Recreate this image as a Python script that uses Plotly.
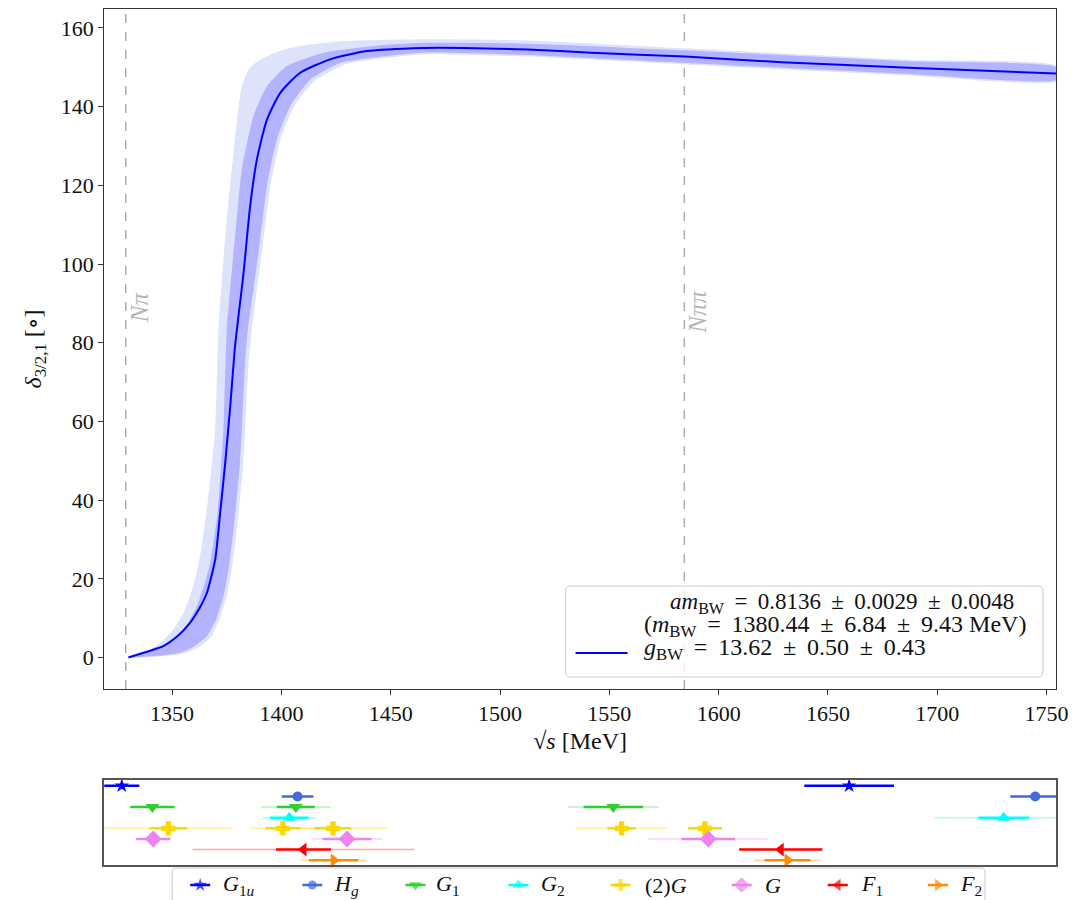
import plotly.graph_objects as go

W, H = 1084, 900
KX = 1 / 0.988  # the page photo is squeezed horizontally by ~1.2 %; compensate positions

# ---------------- main curve data (sqrt(s) in MeV, delta in degrees) ----------------
center_E = [1330.0, 1338.0, 1346.0, 1352.0, 1358.2, 1362.5, 1365.9, 1369.7, 1372.0, 1374.3,
            1376.6, 1378.8, 1382.7, 1385.7, 1388.8, 1393.4, 1399.5, 1408.6, 1422.3, 1439.1,
            1465.0, 1483.5, 1512.5, 1541.6, 1584.6, 1628.7, 1686.8, 1754.6]
center_d = [0.0, 1.4, 2.9, 5.2, 8.8, 12.5, 16.4, 24.9, 36.8, 49.5,
            63.9, 79.1, 97.8, 114.7, 126.6, 136.7, 143.5, 148.6, 152.0, 154.1,
            154.9, 154.9, 154.5, 153.7, 152.7, 151.3, 149.9, 148.4]

outer_up_E = [1330.0, 1339.9, 1345.5, 1350.6, 1354.8, 1358.2, 1361.2, 1363.6, 1366.6, 1369.7,
              1371.2, 1373.5, 1375.8, 1378.1, 1380.0, 1381.6, 1384.9, 1389.0, 1393.4, 1400.0,
              1408.6, 1426.9, 1465.0, 1512.5, 1584.6, 1686.8, 1754.6]
outer_up_d = [0.0, 2.0, 4.2, 7.1, 10.8, 15.6, 21.5, 28.3, 41.0, 57.9,
              83.0, 101.0, 116.0, 128.3, 138.0, 144.5, 149.4, 151.5, 152.8, 154.3,
              155.4, 156.6, 157.1, 156.8, 154.8, 151.9, 150.4]
outer_lo_E = [1330.0, 1345.0, 1355.5, 1362.0, 1367.5, 1371.5, 1375.0, 1377.5, 1379.6, 1382.6,
              1385.0, 1386.4, 1391.0, 1395.0, 1399.5, 1405.8, 1415.0, 1429.0, 1448.0, 1465.0,
              1512.5, 1584.6, 1686.8, 1754.6]
outer_lo_d = [0.0, 0.3, 1.0, 2.6, 5.0, 9.5, 15.6, 23.0, 32.5, 49.5,
              74.9, 83.0, 102.8, 119.8, 131.6, 140.1, 146.5, 150.7, 152.4, 153.3,
              152.7, 150.7, 147.9, 146.4]

inner_up_E = [1330.0, 1339.9, 1346.0, 1352.2, 1357.0, 1361.3, 1364.5, 1367.4, 1370.8, 1373.5,
              1375.0, 1378.1, 1381.9, 1387.2, 1393.4, 1402.5, 1419.3, 1442.2, 1465.0, 1512.5,
              1584.6, 1686.8, 1754.6]
inner_up_d = [0.0, 1.6, 3.2, 5.4, 8.5, 13.0, 18.0, 24.0, 36.8, 57.9,
              83.4, 102.8, 124.0, 137.6, 145.2, 150.3, 153.7, 155.4, 156.2, 156.0,
              154.3, 151.5, 150.0]
inner_lo_E = [1330.0, 1345.0, 1353.7, 1360.0, 1365.9, 1370.0, 1373.5, 1376.0, 1378.1, 1381.1,
              1383.4, 1384.6, 1389.5, 1393.4, 1397.9, 1404.0, 1413.2, 1426.9, 1446.7, 1465.0,
              1512.5, 1584.6, 1686.8, 1754.6]
inner_lo_d = [0.0, 0.5, 1.2, 2.8, 5.4, 9.5, 15.6, 23.0, 32.5, 49.5,
              74.9, 83.0, 102.8, 119.8, 131.6, 140.1, 146.9, 151.1, 152.8, 153.7,
              153.1, 151.1, 148.3, 146.8]

# thresholds
thr_Npi = 1328.8
thr_Npipi = 1584.3

# ---------------- energy levels (bottom panel) ----------------
irrep_names = ["<i>G</i><sub>1<i>u</i></sub>", "<i>H<sub>g</sub></i>", "<i>G</i><sub>1</sub>",
               "<i>G</i><sub>2</sub>", "(2)<i>G</i>", "<i>G</i>", "<i>F</i><sub>1</sub>",
               "<i>F</i><sub>2</sub>"]
lvl_E = [
    [1327.0, 1659.7],
    [1407.4, 1744.8],
    [1341.0, 1406.6, 1551.8],
    [1403.6, 1730.4],
    [1348.3, 1400.7, 1423.6, 1555.6, 1593.7],
    [1341.4, 1430.0, 1595.3],
    [1410.1, 1628.4],
    [1423.9, 1631.5],
]
lvl_err_in = [
    [8.0, 20.5],
    [7.2, 11.4],
    [10.1, 8.7, 13.6],
    [8.8, 11.6],
    [8.6, 8.0, 8.4, 6.5, 7.8],
    [7.8, 11.2, 12.3],
    [12.6, 19.0],
    [11.3, 10.5],
]
lvl_err_out = [
    [8.0, 20.5],
    [7.2, 11.4],
    [10.1, 15.8, 20.6],
    [12.3, 31.8],
    [29.6, 15.0, 25.0, 21.3, 7.8],
    [7.8, 16.3, 27.6],
    [50.7, 19.0],
    [15.1, 15.3],
]
colors = ["#0000ff", "#4169e1", "#32cd32", "#00ffff", "#ffd700", "#ee82ee", "#ff0000", "#ff8c00"]
light_colors = ["rgba(0,0,255,0.35)", "rgba(65,105,225,0.35)", "rgba(50,205,50,0.35)",
                "rgba(0,255,255,0.35)", "rgba(255,215,0,0.35)", "rgba(238,130,238,0.35)",
                "rgba(255,0,0,0.35)", "rgba(255,140,0,0.35)"]
symbols = ["star", "circle", "triangle-down", "triangle-up", "cross", "diamond",
           "triangle-left", "triangle-right"]
msizes = [11, 10, 12, 12, 11, 13, 12, 12]

# legend layout (pixel positions of each entry's swatch start and text start)
leg_sw_px = [190, 302, 405, 508, 610, 731, 827, 927]
leg_tx_px = [221, 332, 434, 538, 642, 762, 858, 957]

FONT = "Liberation Serif, DejaVu Serif, serif"


def X(p):
    return p * KX / W


def Y(p):
    return 1 - p / H


fig = go.Figure()


def band(upE, upd, loE, lod, color):
    return go.Scatter(x=upE + loE[::-1], y=upd + lod[::-1], fill="toself", fillcolor=color,
                      line=dict(width=0, shape="spline", smoothing=0.5), mode="lines",
                      hoverinfo="skip", showlegend=False, xaxis="x", yaxis="y")


fig.add_trace(band(outer_up_E, outer_up_d, outer_lo_E, outer_lo_d, "#dde3fb"))
fig.add_trace(band(inner_up_E, inner_up_d, inner_lo_E, inner_lo_d, "#b3b3ff"))
fig.add_trace(go.Scatter(x=center_E, y=center_d, mode="lines",
                         line=dict(color="#0000ff", width=2, shape="spline", smoothing=0.6),
                         showlegend=False, xaxis="x", yaxis="y"))

# energy levels
for i in range(len(irrep_names)):
    row = [i] * len(lvl_E[i])
    fig.add_trace(go.Scatter(
        x=lvl_E[i], y=row, mode="markers", marker=dict(size=1, opacity=0),
        error_x=dict(type="data", array=lvl_err_out[i], color=light_colors[i], thickness=1.5, width=0),
        showlegend=False, xaxis="x2", yaxis="y2", hoverinfo="skip"))
    fig.add_trace(go.Scatter(
        x=lvl_E[i], y=row, mode="markers", name=irrep_names[i],
        marker=dict(symbol=symbols[i], size=msizes[i], color=colors[i],
                    line=dict(width=1 if symbols[i] == "cross" else 0, color=colors[i])),
        error_x=dict(type="data", array=lvl_err_in[i], color=colors[i], thickness=2.5, width=0),
        showlegend=False, xaxis="x2", yaxis="y2"))
    # legend swatch (drawn on an invisible pixel-space overlay axis)
    s = leg_sw_px[i]
    fig.add_trace(go.Scatter(
        x=[s, s + 10, s + 20], y=[885, 885, 885], mode="lines+markers",
        marker=dict(symbol=symbols[i], size=[0, msizes[i] - 1, 0], color=colors[i], line=dict(width=0)),
        line=dict(color=colors[i], width=2.5), xaxis="x3", yaxis="y3", showlegend=False,
        hoverinfo="skip"))
    fig.add_annotation(x=X(leg_tx_px[i]), y=Y(885), xref="paper", yref="paper", xanchor="left",
                       yanchor="middle", text=irrep_names[i], showarrow=False,
                       font=dict(size=22, color="#111"))

xdom = [X(104), X(1055)]
fig.update_layout(
    width=W, height=H, margin=dict(l=0, r=0, t=0, b=0),
    paper_bgcolor="white", plot_bgcolor="rgba(0,0,0,0)",
    font=dict(family=FONT, size=22, color="#111"),
    showlegend=False,
    xaxis=dict(domain=xdom, range=[1318.9, 1754.3], anchor="y", showgrid=False, zeroline=False,
               showline=True, mirror=True, linecolor="#333", linewidth=1, ticks="outside",
               ticklen=5, tickcolor="#333", dtick=50, tick0=1350,
               title=dict(text="√<i>s</i> [MeV]", standoff=6, font=dict(size=24))),
    yaxis=dict(domain=[Y(689), Y(9)], range=[-8, 164.8], anchor="x", showgrid=False,
               zeroline=False, showline=True, mirror=True, linecolor="#333", linewidth=1,
               ticks="outside", ticklen=5, tickcolor="#333", dtick=20,
               title=dict(text="<i>δ</i><sub>3/2,1</sub> [∘]", standoff=12, font=dict(size=24))),
    xaxis2=dict(domain=xdom, matches="x", anchor="y2", showgrid=False, zeroline=False,
                showline=True, mirror=True, linecolor="#555", linewidth=1.5, showticklabels=False,
                ticks=""),
    yaxis2=dict(domain=[Y(865), Y(780)], range=[7.45, -0.55], anchor="x2",
                showgrid=False, zeroline=False, showline=True, mirror=True, linecolor="#555",
                linewidth=1.5, showticklabels=False, ticks=""),
    xaxis3=dict(domain=[0, 1], range=[0, W / KX], anchor="y3", visible=False, fixedrange=True),
    yaxis3=dict(domain=[0, 1], range=[H, 0], anchor="x3", visible=False, fixedrange=True),
)

# threshold lines
for xv in [thr_Npi, thr_Npipi]:
    fig.add_shape(type="line", x0=xv, x1=xv, y0=0, y1=1, xref="x", yref="y domain",
                  line=dict(color="#aaaaaa", width=1.5, dash="dash"), layer="below")
fig.add_annotation(x=thr_Npi, y=89, xref="x", yref="y", text="<i>Nπ</i>", textangle=-90,
                   showarrow=False, xshift=13 * KX, font=dict(size=25, color="#b5b5b5"))
fig.add_annotation(x=thr_Npipi, y=88, xref="x", yref="y", text="<i>Nππ</i>", textangle=-90,
                   showarrow=False, xshift=13 * KX, font=dict(size=25, color="#b5b5b5"))

# bottom legend frame (cut off by the figure's lower edge, as in the original)
lx0, lx1, ly0, rr = 172, 984, 868, 4
fig.add_shape(type="path", xref="paper", yref="paper", layer="below",
              path=(f"M {X(lx0)},{Y(H + 2)} L {X(lx0)},{Y(ly0 + rr)} Q {X(lx0)},{Y(ly0)} {X(lx0 + rr)},{Y(ly0)} "
                    f"L {X(lx1 - rr)},{Y(ly0)} Q {X(lx1)},{Y(ly0)} {X(lx1)},{Y(ly0 + rr)} L {X(lx1)},{Y(H + 2)}"),
              line=dict(color="#cccccc", width=1))

# fit-result legend box
x0, x1, y0, y1, r = 565, 1042, 586, 677, 5
path = (f"M {X(x0 + r)},{Y(y0)} L {X(x1 - r)},{Y(y0)} Q {X(x1)},{Y(y0)} {X(x1)},{Y(y0 + r)} "
        f"L {X(x1)},{Y(y1 - r)} Q {X(x1)},{Y(y1)} {X(x1 - r)},{Y(y1)} "
        f"L {X(x0 + r)},{Y(y1)} Q {X(x0)},{Y(y1)} {X(x0)},{Y(y1 - r)} "
        f"L {X(x0)},{Y(y0 + r)} Q {X(x0)},{Y(y0)} {X(x0 + r)},{Y(y0)} Z")
fig.add_shape(type="path", path=path, xref="paper", yref="paper",
              line=dict(color="#cccccc", width=1), fillcolor="rgba(255,255,255,0.8)")
fig.add_shape(type="line", x0=X(575), x1=X(627), y0=Y(653), y1=Y(653), xref="paper",
              yref="paper", line=dict(color="#0000ff", width=2))
t = "\u2009"
eq = f" {t}={t} "
pm = f" {t}±{t} "
fig.add_annotation(x=X(1015), y=Y(603), xref="paper", yref="paper", xanchor="right",
                   yanchor="middle",
                   text=f"<i>am</i><sub>BW</sub>{eq}0.8136{pm}0.0029{pm}0.0048", showarrow=False,
                   font=dict(size=23, color="#111"))
fig.add_annotation(x=X(641), y=Y(626), xref="paper", yref="paper", xanchor="left",
                   yanchor="middle",
                   text=f"(<i>m</i><sub>BW</sub>{eq}1380.44{pm}6.84{pm}9.43 MeV)", showarrow=False,
                   font=dict(size=24, color="#111"))
fig.add_annotation(x=X(641), y=Y(649), xref="paper", yref="paper", xanchor="left",
                   yanchor="middle",
                   text=f"<i>g</i><sub>BW</sub>{eq}13.62{pm}0.50{pm}0.43", showarrow=False,
                   font=dict(size=24, color="#111"))

fig.write_html("out.html")
